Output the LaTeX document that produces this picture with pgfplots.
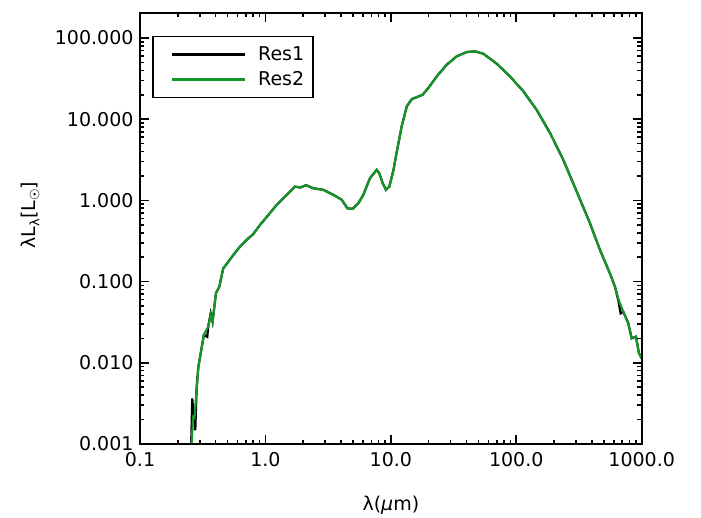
\documentclass[border=0pt]{standalone}
\usepackage{pgfplots}
\pgfplotsset{compat=1.18}
\font\dv="DejaVu Sans" at 19pt
\font\dvs="DejaVu Sans" at 13pt
\font\dvi="DejaVu Sans/I" at 19pt
\definecolor{resgreen}{RGB}{20,150,40}
\pgfplotstableread{
x y
0.255 0.0008
0.261 0.00364
0.270 0.00197
0.276 0.00148
0.283 0.00507
0.292 0.0089
0.323 0.022
0.344 0.0209
0.350 0.0279
0.366 0.0407
0.379 0.032
0.403 0.0718
0.429 0.0867
0.461 0.146
0.491 0.165
0.555 0.213
0.627 0.27
0.708 0.326
0.801 0.386
0.906 0.499
1.02 0.621
1.23 0.881
1.48 1.17
1.72 1.48
1.89 1.44
2.11 1.54
2.41 1.41
2.89 1.35
3.48 1.17
4.06 1.02
4.50 0.80
4.96 0.787
5.50 0.923
6.03 1.17
6.82 1.88
7.71 2.38
8.09 2.16
8.61 1.63
9.15 1.35
9.72 1.48
10.5 2.38
11.1 3.82
12.2 8.15
13.4 14.4
14.7 17.7
16.1 18.7
17.9 20.0
19.9 24.2
23.2 33.6
27.9 46.9
33.5 59.4
40.2 67.2
46.9 68.5
54.6 64.1
69.8 48.3
89.2 33.6
114 22.0
145 13.1
186 6.75
237 3.16
303 1.29
387 0.524
465 0.245
558 0.126
612 0.0867
650 0.0594
679 0.0407
713 0.0426
782 0.0306
832 0.020
900 0.021
951 0.0131
1000 0.0113
}\resone
\pgfplotstableread{
x y
0.255 0.0008
0.266 0.00216
0.272 0.0021
0.292 0.0089
0.323 0.022
0.350 0.0279
0.366 0.0390
0.379 0.032
0.403 0.0718
0.429 0.0867
0.461 0.146
0.491 0.165
0.555 0.213
0.627 0.27
0.708 0.326
0.801 0.386
0.906 0.499
1.02 0.621
1.23 0.881
1.48 1.17
1.72 1.48
1.89 1.44
2.11 1.54
2.41 1.41
2.89 1.35
3.48 1.17
4.06 1.02
4.50 0.80
4.96 0.787
5.50 0.923
6.03 1.17
6.82 1.88
7.71 2.38
8.09 2.16
8.61 1.63
9.15 1.35
9.72 1.48
10.5 2.38
11.1 3.82
12.2 8.15
13.4 14.4
14.7 17.7
16.1 18.7
17.9 20.0
19.9 24.2
23.2 33.6
27.9 46.9
33.5 59.4
40.2 67.2
46.9 68.5
54.6 64.1
69.8 48.3
89.2 33.6
114 22.0
145 13.1
186 6.75
237 3.16
303 1.29
387 0.524
465 0.245
558 0.126
612 0.0867
650 0.0620
671 0.054
713 0.0426
782 0.0306
832 0.020
900 0.021
951 0.0131
1000 0.0113
}\restwo
\begin{document}
\begin{tikzpicture}
\useasboundingbox (-140pt,-73pt) rectangle (561pt,444pt);
\begin{axis}[
  at={(0pt,0pt)}, anchor=south west,
  scale only axis,
  width=501.7pt, height=431.3pt,
  xmode=log, ymode=log,
  xmin=0.1, xmax=1000, ymin=0.001, ymax=205,
  axis on top,
  axis line style={line width=2pt, black},
  major tick length=9pt, minor tick length=4.5pt,
  tick style={black, line width=1.6pt},
  xtick={0.1,1,10,100,1000},
  xticklabels={0.1,1.0,10.0,100.0,1000.0},
  ytick={0.001,0.01,0.1,1,10,100},
  yticklabels={0.001,0.010,0.100,1.000,10.000,100.000},
  tick label style={font=\dv},
  xticklabel style={yshift=-5pt},
  yticklabel style={xshift=-3pt},
  xlabel={λ({\dvi μ}m)},
  ylabel={λL\raisebox{-4pt}{\dvs λ}[L\raisebox{-4pt}{\dvs ☉}]},
  label style={font=\dv},
  xlabel style={at={(axis description cs:0.5,-0.141)}, anchor=center},
  ylabel style={at={(axis description cs:-0.219,0.531)}, anchor=center},
  legend style={at={(0.0245,0.947)}, anchor=north west, draw=black, line width=1.8pt,
    font=\dv, inner xsep=9pt, inner ysep=5.5pt,
    nodes={inner sep=0pt}, row sep=0pt, column sep=0pt, cells={anchor=west}},
  legend image code/.code={\path[draw=none, fill=none] (-10pt,-12.5pt) rectangle (86pt,12.5pt);\draw[#1, line width=2.2pt] (0pt,0pt) -- (73pt,0pt);},
]
\addplot[black, line width=2.2pt] table[x=x,y=y] {\resone};
\addlegendentry{Res1}
\addplot[resgreen, line width=2.2pt] table[x=x,y=y] {\restwo};
\addlegendentry{Res2}
\end{axis}
\end{tikzpicture}
\end{document}
